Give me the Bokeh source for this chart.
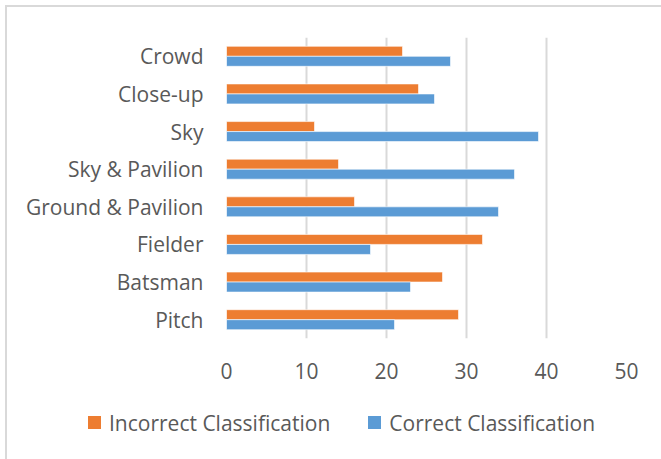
from bokeh.plotting import figure
from bokeh.layouts import column
from bokeh.models import FactorRange, FixedTicker, ColumnDataSource, Div
from bokeh.transform import dodge
from bokeh.embed import file_html
from bokeh.resources import INLINE

# Categories listed bottom to top
categories = ["Pitch", "Batsman", "Fielder", "Ground & Pavilion",
              "Sky & Pavilion", "Sky", "Close-up", "Crowd"]
incorrect = [29, 27, 32, 16, 14, 11, 24, 22]
correct = [21, 23, 18, 34, 36, 39, 26, 28]
series_names = ["Incorrect Classification", "Correct Classification"]
x_ticks = [0, 10, 20, 30, 40, 50]

ORANGE = "#ED7D31"
BLUE = "#5B9BD5"
GREY_TEXT = "#595959"
GRID = "#d9d9d9"
FONT = "Open Sans"
FONT_SIZE = "21px"

src = ColumnDataSource(dict(cat=categories, inc=incorrect, cor=correct))

# --- bar chart ---
p = figure(
    width=645, height=381,
    y_range=FactorRange(factors=categories, range_padding=0),
    x_range=(0, 50),
    output_backend="svg", toolbar_location=None,
    min_border_left=219, min_border_top=30, min_border_right=26, min_border_bottom=50,
)
p.frame_width = 400
p.frame_height = 301

bar_h = 0.265
p.hbar(y=dodge("cat", 0.133, range=p.y_range), right="inc", left=0, height=bar_h,
       source=src, fill_color=ORANGE, line_color="white", line_width=0.6)
p.hbar(y=dodge("cat", -0.133, range=p.y_range), right="cor", left=0, height=bar_h,
       source=src, fill_color=BLUE, line_color="white", line_width=0.6)

p.outline_line_color = None
p.background_fill_color = "white"
p.border_fill_color = "white"

p.ygrid.grid_line_color = None
p.xgrid.grid_line_color = GRID
p.xgrid.grid_line_width = 2
p.xaxis.ticker = FixedTicker(ticks=x_ticks)

for ax in (p.xaxis, p.yaxis):
    ax.axis_line_color = None
    ax.major_tick_line_color = None
    ax.minor_tick_line_color = None
    ax.major_label_text_color = GREY_TEXT
    ax.major_label_text_font = FONT
    ax.major_label_text_font_size = FONT_SIZE
p.yaxis.major_label_standoff = 17
p.xaxis.major_label_standoff = 18

# --- legend strip under the chart ---
swatches = [ORANGE, BLUE]
entries = []
for name, color in zip(series_names, swatches):
    entries.append(
        f'<span style="display:inline-flex;align-items:center;margin-right:38px;">'
        f'<span style="display:inline-block;width:13px;height:13px;background:{color};'
        f'margin-right:8px;"></span>{name}</span>'
    )
legend_div = Div(
    text="".join(entries),
    width=645, height=62,
    styles={"font-family": FONT, "font-size": FONT_SIZE, "color": GREY_TEXT,
            "line-height": "26px", "padding-top": "15px", "padding-left": "76px",
            "box-sizing": "border-box", "white-space": "nowrap", "background": "white"},
)

layout = column(p, legend_div, spacing=0,
                styles={"margin-left": "5px", "margin-top": "5px",
                        "border-left": "2px solid #d9d9d9", "border-top": "2px solid #d9d9d9"})

open("out.html", "w").write(file_html(layout, INLINE))
